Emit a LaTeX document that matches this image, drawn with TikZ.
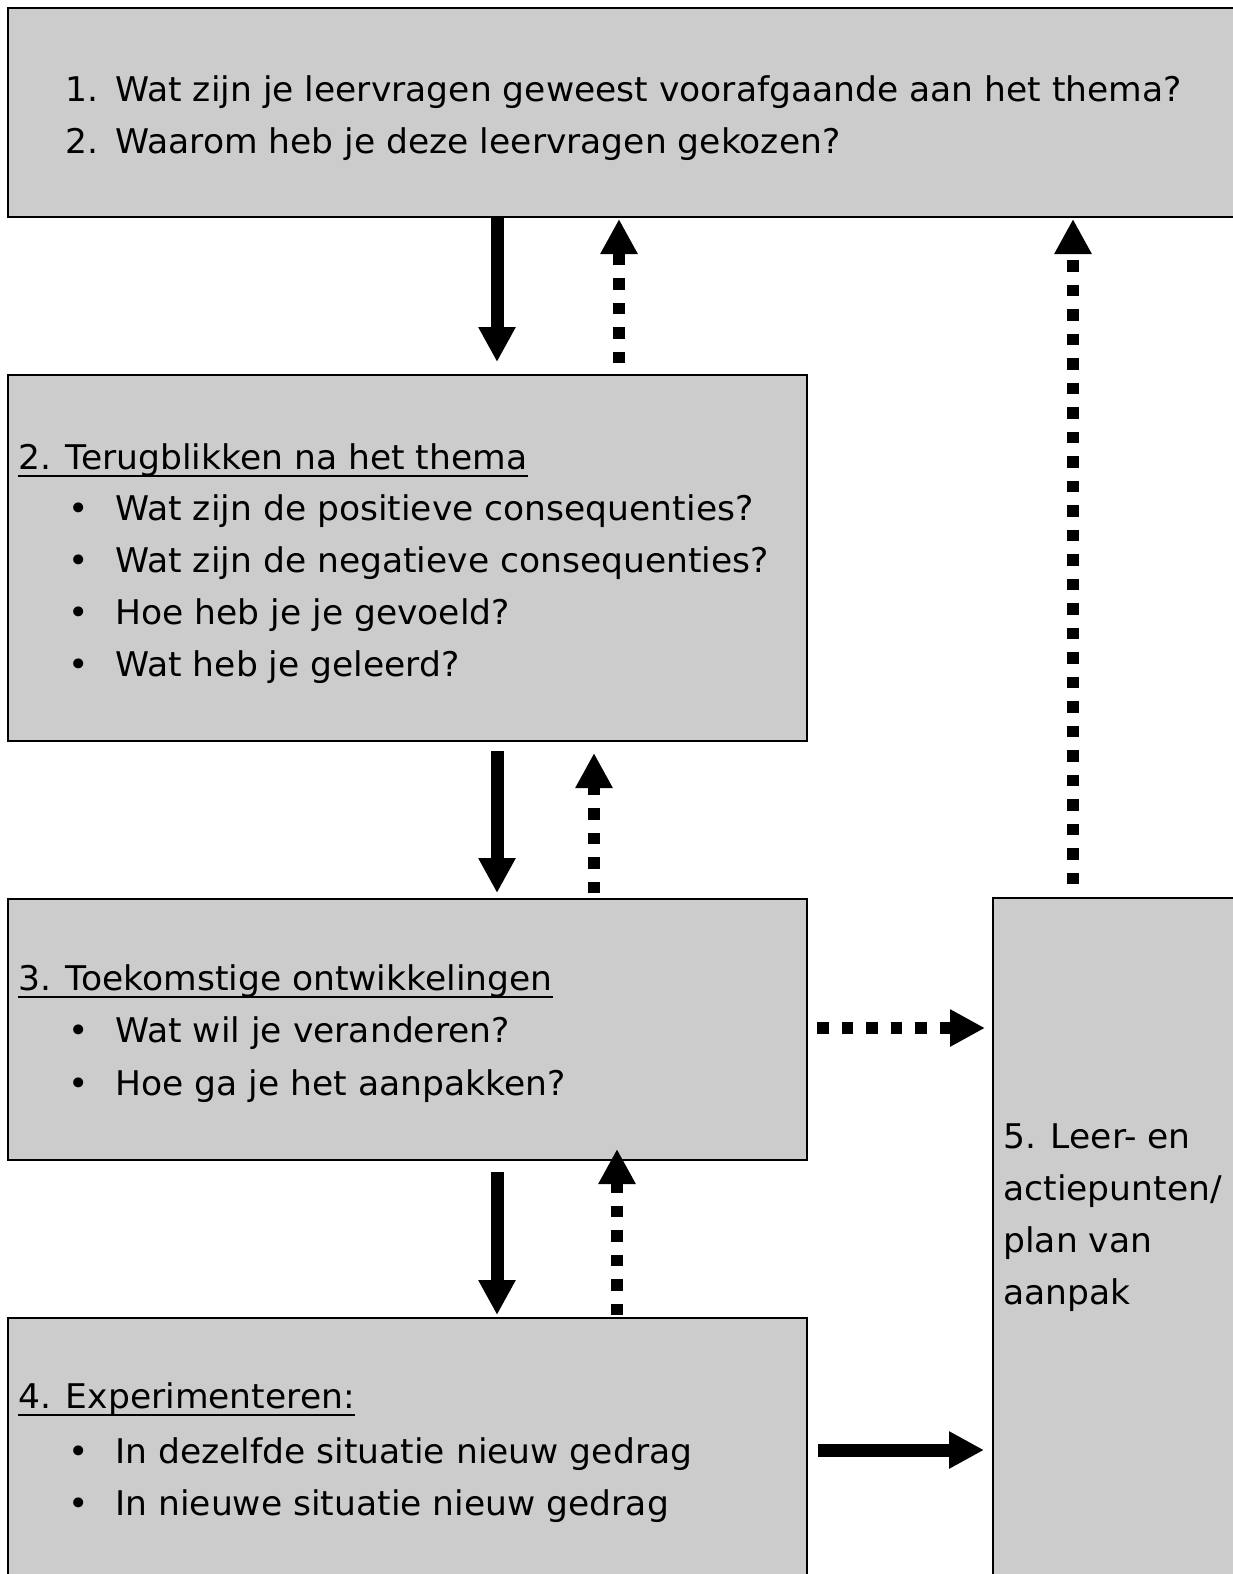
\documentclass[tikz,border=0pt]{standalone}
\usepackage{fontspec}
\setmainfont[FakeStretch=1.015]{DejaVu Sans}
\usetikzlibrary{arrows.meta}
\begin{document}
\begin{tikzpicture}[x=0.5pt,y=-0.5pt,
 box/.style={draw=black,line width=1pt,fill=black!20,anchor=north west,inner sep=0pt,outer sep=0pt},
 txt/.style={anchor=base west,inner sep=0pt,font=\fontsize{17}{20}\selectfont},
 uline/.style={line width=1.3pt},
 solidarrow/.style={line width=6.5pt,-{Triangle[width=17.5pt,length=17.5pt]}},
 dotarrow/.style={line width=6pt,dash pattern=on 5.75pt off 6.5pt,-{Triangle[width=17.5pt,length=17.5pt]}}]
\useasboundingbox (0,0) rectangle (1232,1574);
% boxes
\node[box,minimum width=616pt,minimum height=104.5pt] (b1) at (8,8) {};
\node[box,minimum width=399.5pt,minimum height=183pt] (b2) at (8,375) {};
\node[box,minimum width=399.5pt,minimum height=130.5pt] (b3) at (8,899) {};
\node[box,minimum width=399.5pt,minimum height=141pt] (b4) at (8,1318) {};
\node[box,minimum width=123.5pt,minimum height=351pt] (b5) at (993,898) {};
% box 1 text
\node[txt] (t11) at (65,101) {\makebox[25pt][l]{1.}Wat zijn je leervragen geweest voorafgaande aan het thema?};
\node[txt] (t12) at (65,153) {\makebox[25pt][l]{2.}Waarom heb je deze leervragen gekozen?};
% box 2 text
\node[txt] (h2) at (18,469) {2. Terugblikken na het thema};
\draw[uline] ([yshift=-3.5pt]h2.base west) -- ([yshift=-3.5pt]h2.base east);
\node[txt] (t21) at (68,520) {\makebox[23.5pt][l]{•}Wat zijn de positieve consequenties?};
\node[txt] (t22) at (68,572) {\makebox[23.5pt][l]{•}Wat zijn de negatieve consequenties?};
\node[txt] (t23) at (68,624) {\makebox[23.5pt][l]{•}Hoe heb je je gevoeld?};
\node[txt] (t24) at (68,676) {\makebox[23.5pt][l]{•}Wat heb je geleerd?};
% box 3 text
\node[txt] (h3) at (18,990) {3. Toekomstige ontwikkelingen};
\draw[uline] ([yshift=-3.5pt]h3.base west) -- ([yshift=-3.5pt]h3.base east);
\node[txt] (t31) at (68,1042) {\makebox[23.5pt][l]{•}Wat wil je veranderen?};
\node[txt] (t32) at (68,1095) {\makebox[23.5pt][l]{•}Hoe ga je het aanpakken?};
% box 4 text
\node[txt] (h4) at (18,1408) {4. Experimenteren:};
\draw[uline] ([yshift=-3.5pt]h4.base west) -- ([yshift=-3.5pt]h4.base east);
\node[txt] (t41) at (68,1463) {\makebox[23.5pt][l]{•}In dezelfde situatie nieuw gedrag};
\node[txt] (t42) at (68,1515) {\makebox[23.5pt][l]{•}In nieuwe situatie nieuw gedrag};
% box 5 text
\node[txt] (t51) at (1003,1148) {5. Leer- en};
\node[txt] (t52) at (1003,1200) {actiepunten/};
\node[txt] (t53) at (1003,1252) {plan van};
\node[txt] (t54) at (1003,1304) {aanpak};
% connector end points
\coordinate (d1s) at (497,217); \coordinate (d1e) at (497,362);
\coordinate (u1s) at (619,363); \coordinate (u1e) at (619,219);
\coordinate (u5s) at (1073,884); \coordinate (u5e) at (1073,219);
\coordinate (d2s) at (497,751); \coordinate (d2e) at (497,893);
\coordinate (u2s) at (594,893); \coordinate (u2e) at (594,753);
\coordinate (d3s) at (497,1172); \coordinate (d3e) at (497,1315);
\coordinate (u3s) at (617,1315); \coordinate (u3e) at (617,1149);
\coordinate (h3s) at (817,1028); \coordinate (h3e) at (985,1028);
\coordinate (h4s) at (818,1450); \coordinate (h4e) at (984,1450);
% connectors
\draw[solidarrow] (d1s) -- (d1e);
\draw[dotarrow] (u1s) -- (u1e);
\draw[dotarrow] (u5s) -- (u5e);
\draw[solidarrow] (d2s) -- (d2e);
\draw[dotarrow] (u2s) -- (u2e);
\draw[solidarrow] (d3s) -- (d3e);
\draw[dotarrow] (u3s) -- (u3e);
\draw[dotarrow] (h3s) -- (h3e);
\draw[solidarrow] (h4s) -- (h4e);
\end{tikzpicture}
\end{document}
